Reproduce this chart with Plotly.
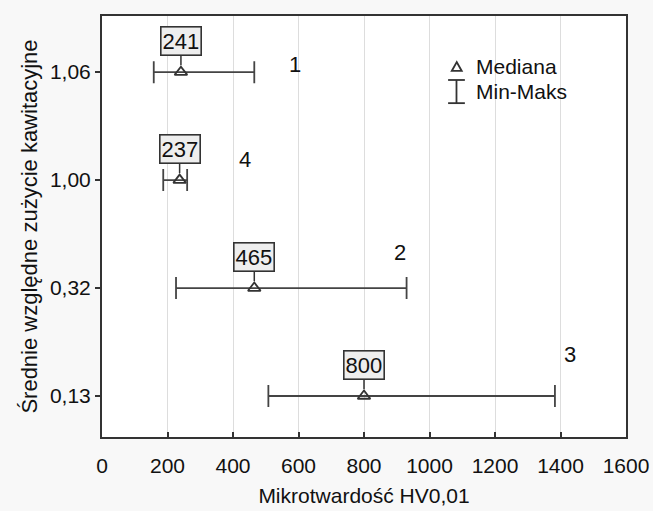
import plotly.graph_objects as go

categories = ["0,13", "0,32", "1,00", "1,06"]
medians = [800, 465, 237, 241]
mins = [508, 226, 187, 158]
maxs = [1383, 930, 260, 465]
group_labels = ["3", "2", "4", "1"]
group_label_x = [1429, 910, 437, 589]
group_label_dy = [0.38, 0.33, 0.19, 0.07]
x_ticks = [0, 200, 400, 600, 800, 1000, 1200, 1400, 1600]

FONT = "Liberation Sans, Arial, sans-serif"
DARK = "#333333"
TXT = "#111111"

ypos = list(range(len(categories)))

fig = go.Figure()
fig.add_trace(go.Scatter(
    x=medians, y=ypos, mode="markers",
    marker=dict(symbol="triangle-up-open", size=11, color=DARK, line=dict(width=1.8, color=DARK)),
    error_x=dict(type="data", symmetric=False,
                 array=[mx - m for mx, m in zip(maxs, medians)],
                 arrayminus=[m - mn for m, mn in zip(medians, mins)],
                 color="#444444", thickness=1.8, width=11),
    showlegend=False, name="Mediana",
))

annotations = []
for m, y in zip(medians, ypos):
    annotations.append(dict(
        x=m, y=y, xref="x", yref="y", text=str(m), showarrow=True,
        arrowhead=0, arrowwidth=1.5, arrowcolor=DARK, ax=0, ay=-31, standoff=7,
        bgcolor="#eeeeee", bordercolor=DARK, borderwidth=1.6, borderpad=1,
        font=dict(family=FONT, size=22, color=TXT),
    ))
for lab, lx, dy, y in zip(group_labels, group_label_x, group_label_dy, ypos):
    annotations.append(dict(
        x=lx, y=y + dy, xref="x", yref="y", text=lab, showarrow=False,
        font=dict(family=FONT, size=22, color=TXT),
    ))

# manual legend
annotations.append(dict(x=0.710, y=0.881, xref="paper", yref="paper", text="Mediana",
                        showarrow=False, xanchor="left", yanchor="middle",
                        font=dict(family=FONT, size=21, color=TXT)))
annotations.append(dict(x=0.710, y=0.820, xref="paper", yref="paper", text="Min-Maks",
                        showarrow=False, xanchor="left", yanchor="middle",
                        font=dict(family=FONT, size=21, color=TXT)))

shapes = []
tx, ty = 0.677, 0.879
shapes.append(dict(type="path", xref="paper", yref="paper",
                   path=f"M {tx-0.0095} {ty-0.0095} L {tx+0.0095} {ty-0.0095} L {tx} {ty+0.0115} Z",
                   line=dict(color=DARK, width=1.8), fillcolor="rgba(0,0,0,0)"))
ix, iy0, iy1 = 0.6765, 0.793, 0.848
shapes.append(dict(type="line", xref="paper", yref="paper", x0=ix, x1=ix, y0=iy0, y1=iy1,
                   line=dict(color=DARK, width=1.8)))
for yy in (iy0, iy1):
    shapes.append(dict(type="line", xref="paper", yref="paper", x0=ix - 0.016, x1=ix + 0.016,
                       y0=yy, y1=yy, line=dict(color=DARK, width=1.8)))

fig.update_layout(
    width=653, height=511,
    margin=dict(l=102, r=27, t=16, b=74),
    paper_bgcolor="#f8f8f8", plot_bgcolor="#ffffff",
    font=dict(family=FONT, size=21, color=TXT),
    annotations=annotations, shapes=shapes,
    showlegend=False,
)
fig.update_xaxes(
    range=[0, 1600], tickvals=x_ticks, ticktext=[str(v) for v in x_ticks],
    showgrid=True, gridcolor="#dddddd", gridwidth=1,
    ticks="inside", ticklen=5, tickcolor=DARK, tickwidth=1.5,
    showline=True, linecolor=DARK, linewidth=2, mirror=True,
    zeroline=False, ticklabelstandoff=9, automargin=False,
    tickfont=dict(family=FONT, size=21, color=TXT),
    title=dict(text="Mikrotwardość HV0,01", font=dict(family=FONT, size=21, color=TXT), standoff=12),
)
fig.update_yaxes(
    range=[-0.38, 3.52], tickvals=ypos, ticktext=categories,
    showgrid=False, ticks="outside", ticklen=5, tickcolor=DARK, tickwidth=1.5,
    showline=True, linecolor=DARK, linewidth=2, mirror=True,
    zeroline=False, automargin=False,
    tickfont=dict(family=FONT, size=21, color=TXT),
    title=dict(text="Średnie względne zużycie kawitacyjne", font=dict(family=FONT, size=22, color=TXT), standoff=6),
)

fig.write_html("out.html", config={"displayModeBar": False},
               post_script="document.body.style.margin='0';document.body.style.background='#f8f8f8';")
